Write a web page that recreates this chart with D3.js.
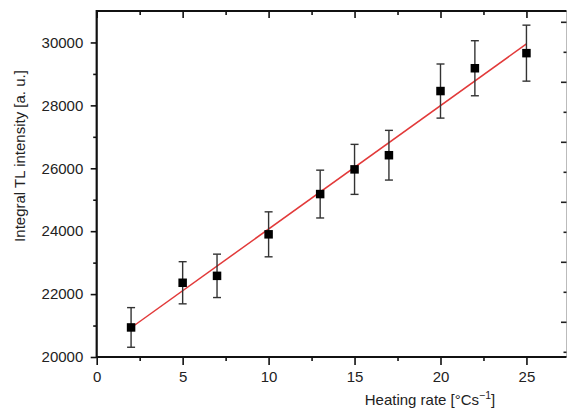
<!DOCTYPE html>
<html>
<head>
<meta charset="utf-8">
<script src="https://cdn.jsdelivr.net/npm/d3@7"></script>
<style>
  html, body { margin: 0; padding: 0; background: #fff; }
  svg { display: block; }
  text { font-family: "Liberation Sans", Arial, Helvetica, sans-serif; }
</style>
</head>
<body>
<svg id="chart" width="568" height="412"></svg>
<script>
// ---- data ----
const heatingRate = [2, 5, 7, 10, 13, 15, 17, 20, 22, 25];
const intensity   = [20940, 22360, 22580, 23900, 25180, 25965, 26415, 28455, 29180, 29660];
const errorBar    = [630, 670, 690, 715, 760, 795, 790, 860, 875, 890];
const fitIntercept = 20145;
const fitSlope = 392.3;
const fitRange = [2, 25];
const xMajorTicks = [0, 5, 10, 15, 20, 25];
const xMinorTicks = [2.5, 7.5, 12.5, 17.5, 22.5];
const yMajorTicks = [20000, 22000, 24000, 26000, 28000, 30000];
const yMinorTicks = [21000, 23000, 25000, 27000, 29000];
const rightMajorTicks = [1, 3, 5, 7, 9, 11];
const rightMinorTicks = [0, 2, 4, 6, 8, 10];

// ---- layout ----
const L = 96.7, R = 566.5, T = 11, B = 357;
const svg = d3.select("#chart");

const x = d3.scaleLinear().domain([0, 27.33]).range([L, R]);
const y = d3.scaleLinear().domain([20000, 31000]).range([B, T]);
const yR = d3.scaleLinear().domain([-0.157, 11.377]).range([B, T]);

const fontSize = 15;

// right axis (light, inward ticks)
const gR = svg.append("g").attr("transform", `translate(${R},0)`);
gR.append("line").attr("x1", 0).attr("x2", 0).attr("y1", T).attr("y2", B)
  .attr("stroke", "#bbb").attr("stroke-width", 1);
gR.selectAll("line.maj").data(rightMajorTicks).join("line").attr("class","maj")
  .attr("x1", 0).attr("x2", -5.5).attr("y1", d => yR(d)).attr("y2", d => yR(d))
  .attr("stroke", "#222").attr("stroke-width", 1.6);
gR.selectAll("line.min").data(rightMinorTicks).join("line").attr("class","min")
  .attr("x1", 0).attr("x2", -3).attr("y1", d => yR(d)).attr("y2", d => yR(d))
  .attr("stroke", "#222").attr("stroke-width", 1.6);

// bottom axis
const gB = svg.append("g").attr("transform", `translate(0,${B})`);
gB.call(d3.axisBottom(x).tickValues(xMajorTicks).tickSize(8).tickPadding(6.5).tickFormat(d3.format("d")));
const gBm = svg.append("g").attr("transform", `translate(0,${B})`);
gBm.call(d3.axisBottom(x).tickValues(xMinorTicks).tickSize(4).tickFormat(""));

// top axis: ticks pointing down (inward)
const gT = svg.append("g").attr("transform", `translate(0,${T})`);
gT.call(d3.axisBottom(x).tickValues(xMajorTicks).tickSize(7).tickFormat(""));
const gTm = svg.append("g").attr("transform", `translate(0,${T})`);
gTm.call(d3.axisBottom(x).tickValues(xMinorTicks).tickSize(4).tickFormat(""));

// left axis
const gL = svg.append("g").attr("transform", `translate(${L},0)`);
gL.call(d3.axisLeft(y).tickValues(yMajorTicks).tickSize(6).tickPadding(7.4).tickFormat(d3.format("d")));
const gLm = svg.append("g").attr("transform", `translate(${L},0)`);
gLm.call(d3.axisLeft(y).tickValues(yMinorTicks).tickSize(3.5).tickFormat(""));

// style axes
[gB, gBm, gT, gTm, gL, gLm].forEach(g => {
  g.selectAll(".domain").remove();
  g.selectAll(".tick line").attr("stroke", "#111").attr("stroke-width", 1.6);
  g.selectAll(".tick text").attr("font-size", fontSize).attr("fill", "#222")
    .attr("font-family", '"Liberation Sans", Arial, sans-serif');
});

// axis frame lines (left, top, bottom)
svg.append("line").attr("x1", L).attr("x2", L).attr("y1", T - 1).attr("y2", B + 1)
  .attr("stroke", "#111").attr("stroke-width", 2.2);
svg.append("line").attr("x1", L).attr("x2", R).attr("y1", T).attr("y2", T)
  .attr("stroke", "#111").attr("stroke-width", 2.2);
svg.append("line").attr("x1", L).attr("x2", R).attr("y1", B).attr("y2", B)
  .attr("stroke", "#111").attr("stroke-width", 2.2);

// fit line
svg.append("line")
  .attr("x1", x(fitRange[0])).attr("y1", y(fitIntercept + fitSlope * fitRange[0]))
  .attr("x2", x(fitRange[1])).attr("y2", y(fitIntercept + fitSlope * fitRange[1]))
  .attr("stroke", "#e23a3a").attr("stroke-width", 1.5);

// error bars
const pts = heatingRate.map((h, i) => ({h, v: intensity[i], e: errorBar[i]}));
const eb = svg.append("g").attr("stroke", "#333").attr("stroke-width", 1.4);
eb.selectAll("line.v").data(pts).join("line").attr("class", "v")
  .attr("x1", d => x(d.h)).attr("x2", d => x(d.h))
  .attr("y1", d => y(d.v + d.e)).attr("y2", d => y(d.v - d.e));
eb.selectAll("line.t").data(pts).join("line").attr("class", "t")
  .attr("x1", d => x(d.h) - 4).attr("x2", d => x(d.h) + 4)
  .attr("y1", d => y(d.v + d.e)).attr("y2", d => y(d.v + d.e));
eb.selectAll("line.b").data(pts).join("line").attr("class", "b")
  .attr("x1", d => x(d.h) - 4).attr("x2", d => x(d.h) + 4)
  .attr("y1", d => y(d.v - d.e)).attr("y2", d => y(d.v - d.e));

// squares
const s = 8.5;
svg.append("g").selectAll("rect").data(pts).join("rect")
  .attr("x", d => x(d.h) - s / 2).attr("y", d => y(d.v) - s / 2)
  .attr("width", s).attr("height", s).attr("fill", "#000");

// axis labels
const xl = svg.append("text").attr("x", 430).attr("y", 404.5)
  .attr("text-anchor", "middle").attr("font-size", 15).attr("fill", "#222");
xl.append("tspan").text("Heating rate [°Cs");
xl.append("tspan").text("−1").attr("font-size", 10.5).attr("dy", -6);
xl.append("tspan").text("]").attr("dy", 6);

svg.append("text")
  .attr("transform", "translate(25,156) rotate(-90)")
  .attr("text-anchor", "middle").attr("font-size", 15).attr("fill", "#222")
  .text("Integral TL intensity [a. u.]");
</script>
</body>
</html>
